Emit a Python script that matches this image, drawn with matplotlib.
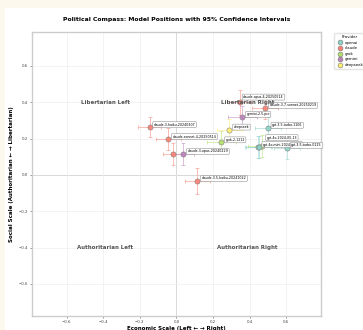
import matplotlib
matplotlib.use("Agg")
import matplotlib.pyplot as plt
from matplotlib.patches import Rectangle
from matplotlib.lines import Line2D

# model positions
models = ["claude-3-haiku-20240307", "claude-sonnet-4-20250514", "claude-3-opus-20240229",
          "gemini-1.5-pro", "claude-3.5-haiku-20241022", "claude-opus-4-20250514",
          "claude-3-7-sonnet-20250219", "gemini-2.5-pro", "deepseek", "gpt-3.5-turbo-1106",
          "grok-2-1212", "gpt-4o-2024-05-13", "grok-beta", "gpt-4o-mini-2024-07-18",
          "gpt-3.5-turbo-0125"]
providers = ["claude", "claude", "claude", "gemini", "claude", "claude", "claude", "gemini",
             "deepseek", "openai", "grok", "openai", "grok", "openai", "openai"]
econ = [-0.147, -0.044, -0.016, 0.038, 0.115, 0.35, 0.486, 0.36, 0.29, 0.50, 0.245,
        0.447, 0.47, 0.45, 0.605]
social = [0.264, 0.198, 0.116, 0.116, -0.033, 0.40, 0.37, 0.32, 0.25, 0.26, 0.18,
          0.154, 0.16, 0.154, 0.149]
econ_err = [0.065, 0.07, 0.06, 0.06, 0.07, 0.06, 0.07, 0.08, 0.07, 0.07, 0.08,
            0.07, 0.08, 0.07, 0.07]
social_err = [0.055, 0.06, 0.06, 0.06, 0.07, 0.07, 0.06, 0.06, 0.06, 0.06, 0.06,
              0.06, 0.06, 0.06, 0.06]
labels = ["claude-3-haiku-20240307", "claude-sonnet-4-20250514", "", "claude-3-opus-20240229",
          "claude-3.5-haiku-20241022", "claude-opus-4-20250514", "claude-3-7-sonnet-20250219",
          "gemini-2.5-pro", "deepseek", "gpt-3.5-turbo-1106", "grok-2-1212",
          "gpt-4o-2024-05-13", "", "gpt-4o-mini-2024-07-18", "gpt-3.5-turbo-0125"]

provider_order = ["openai", "claude", "grok", "gemini", "deepseek"]
colors = {"openai": "#8dd3c7", "claude": "#fb8072", "grok": "#b3de69",
          "gemini": "#bc80bd", "deepseek": "#ffed6f"}

# a few labels were nudged in the original to dodge each other
nudge = {"gpt-4o-2024-05-13": (6, 6), "claude-opus-4-20250514": (2, 3)}

fig = plt.figure(figsize=(3.63, 3.30), dpi=100, facecolor="#fdf8ee")
fig.patches.append(Rectangle((5 / 363, 0), 1, 1 - 8 / 330, transform=fig.transFigure,
                             facecolor="white", edgecolor="none", zorder=-5))
ax = fig.add_axes([0.088, 0.042, 0.796, 0.861])
ax.set_facecolor("white")

for i in range(len(models)):
    c = colors[providers[i]]
    ax.errorbar(econ[i], social[i], xerr=econ_err[i], yerr=social_err[i], fmt="none",
                ecolor=c, elinewidth=0.6, capsize=1.5, capthick=0.6, alpha=0.6, zorder=2)
    ax.scatter(econ[i], social[i], s=14, color=c, edgecolor="#777777", linewidth=0.4,
               alpha=0.9, zorder=3)
    if labels[i]:
        ax.annotate(labels[i], (econ[i], social[i]), xytext=nudge.get(labels[i], (3, 1)),
                    textcoords="offset points", fontsize=2.3, zorder=4,
                    bbox=dict(boxstyle="round,pad=0.3", fc="white", ec="#888888", lw=0.4, alpha=0.9))

ax.axhline(0, color="#999999", lw=0.6, zorder=1)
ax.axvline(0, color="#999999", lw=0.6, zorder=1)

qstyle = dict(fontsize=4, fontweight="bold", color="#555555", ha="center", va="center", zorder=5)
ax.text(-0.39, 0.4, "Libertarian Left", **qstyle)
ax.text(0.39, 0.4, "Libertarian Right", **qstyle)
ax.text(-0.39, -0.4, "Authoritarian Left", **qstyle)
ax.text(0.39, -0.4, "Authoritarian Right", **qstyle)

ax.set_xlim(-0.79, 0.79)
ax.set_ylim(-0.778, 0.787)
ax.set_xticks([-0.6, -0.4, -0.2, 0.0, 0.2, 0.4, 0.6])
ax.set_yticks([-0.6, -0.4, -0.2, 0.0, 0.2, 0.4, 0.6])
ax.tick_params(labelsize=2.8, length=1.5, width=0.4, colors="#444444", pad=1.5)
ax.grid(True, color="#eeeeee", lw=0.5, zorder=0)
for s in ax.spines.values():
    s.set_color("#cccccc")
    s.set_linewidth(1)

ax.set_xlabel("Economic Scale (Left \u2190 \u2192 Right)", fontsize=4, fontweight="bold", labelpad=1)
ax.set_ylabel("Social Scale (Authoritarian \u2190 \u2192 Libertarian)", fontsize=4,
              fontweight="bold", labelpad=3)
ax.set_title("Political Compass: Model Positions with 95% Confidence Intervals",
             fontsize=4.4, fontweight="bold", pad=8)

handles = [Line2D([], [], marker="o", ls="none", markersize=3.5, markerfacecolor=colors[p],
                  markeredgecolor="#777777", markeredgewidth=0.4) for p in provider_order]
fig.legend(handles, provider_order, title="Provider", loc="upper left",
           bbox_to_anchor=(0.915, 0.905), fontsize=2.8, title_fontsize=2.8,
           frameon=True, edgecolor="#dddddd", handletextpad=0.3, borderpad=0.5,
           labelspacing=0.4)

fig.savefig("out.png", dpi=100, facecolor=fig.get_facecolor())
